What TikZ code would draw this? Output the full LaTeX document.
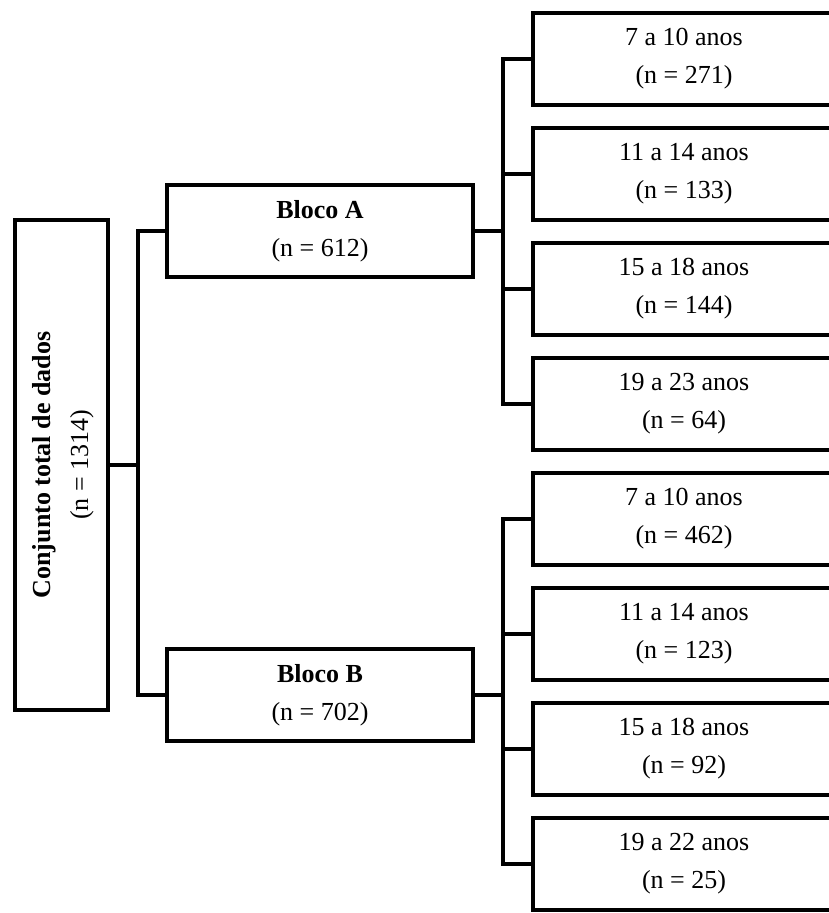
\documentclass[tikz,border=0pt]{standalone}
\usepackage{fontspec}
\setmainfont{Liberation Serif}
\usetikzlibrary{calc}

\tikzset{
  boxNode/.style={draw, line width=4pt, align=center, inner sep=0pt, font=\fontsize{26}{38}\selectfont},
  ageBox/.style={boxNode, minimum width=302pt, minimum height=92pt},
  blocoBox/.style={boxNode, minimum width=306pt, minimum height=92pt},
  linkLine/.style={line width=3.5pt},
  stubLine/.style={line width=4.5pt}
}

\begin{document}
\begin{tikzpicture}[x=1pt, y=-1pt]
  \useasboundingbox (0,0) rectangle (829,913);
  \clip (0,0) rectangle (829,913);

  % root and the two blocks
  \node[boxNode, minimum width=93pt, minimum height=490pt] (total) at (61.5,465)
    {\rotatebox{90}{\begin{tabular}{@{}c@{}}\textbf{Conjunto total de dados}\\(n = 1314)\end{tabular}}};
  \node[blocoBox] (blocoA) at (320,231) {\textbf{Bloco A}\\(n = 612)};
  \node[blocoBox] (blocoB) at (320,695) {\textbf{Bloco B}\\(n = 702)};

  % age groups
  \foreach \i/\txt/\cnt in {1/7 a 10 anos/271, 2/11 a 14 anos/133, 3/15 a 18 anos/144, 4/19 a 23 anos/64}
    \node[ageBox] (ageA\i) at (684, -56+115*\i) {\txt\\(n = \cnt)};
  \foreach \i/\txt/\cnt in {1/7 a 10 anos/462, 2/11 a 14 anos/123, 3/15 a 18 anos/92, 4/19 a 22 anos/25}
    \node[ageBox] (ageB\i) at (684, 404+115*\i) {\txt\\(n = \cnt)};

  \coordinate (forkT) at (138,0);
  \coordinate (forkA) at (503,0);

  % connectors
  \draw[stubLine] (total.east) -- (forkT |- total.east);
  \draw[linkLine] (blocoA.west) -- (forkT |- blocoA.west) -- (forkT |- blocoB.west) -- (blocoB.west);
  \foreach \blk in {A,B} {
    \draw[stubLine] (bloco\blk.east) -- (forkA |- bloco\blk.east);
    \draw[linkLine] (age\blk1.west) -- (forkA |- age\blk1.west) -- (forkA |- age\blk4.west) -- (age\blk4.west);
    \draw[linkLine] (age\blk2.west) -- (forkA |- age\blk2.west);
    \draw[linkLine] (age\blk3.west) -- (forkA |- age\blk3.west);
  }
\end{tikzpicture}
\end{document}
